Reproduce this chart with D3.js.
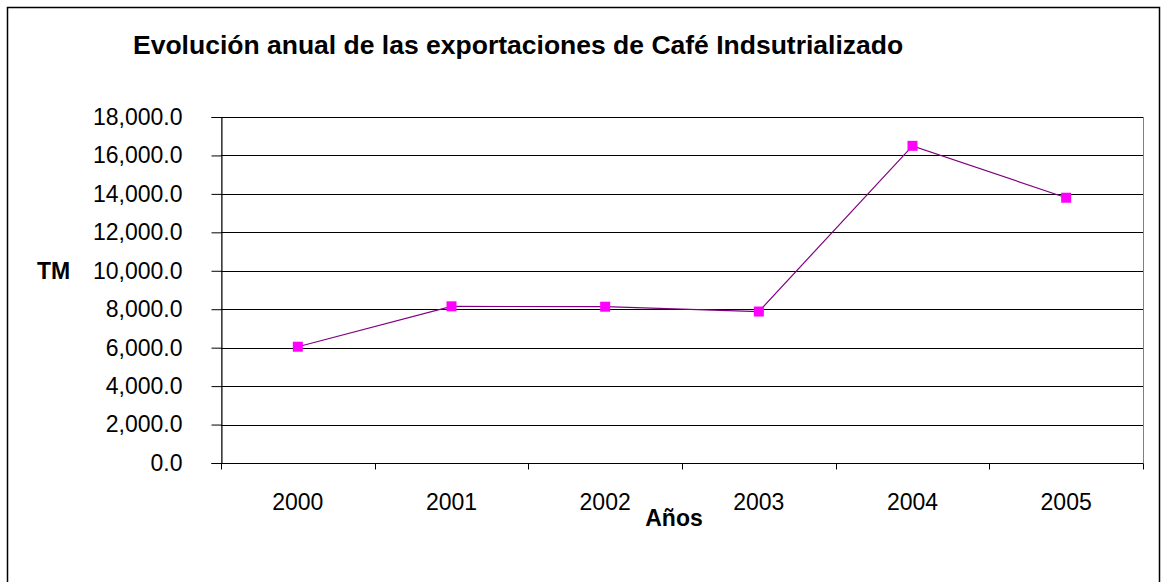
<!DOCTYPE html>
<html>
<head>
<meta charset="utf-8">
<script src="https://cdn.jsdelivr.net/npm/d3@7"></script>
<style>
  body { margin: 0; background: #fff; }
  svg { display: block; font-family: "Liberation Sans", Arial, sans-serif; }
</style>
</head>
<body>
<svg width="1163" height="582"></svg>
<script>
var years = ["2000", "2001", "2002", "2003", "2004", "2005"];
var tm = [6050, 8150, 8130, 7880, 16500, 13800];
var yTicks = [0, 2000, 4000, 6000, 8000, 10000, 12000, 14000, 16000, 18000];

var svg = d3.select("svg");
var margin = {top: 117, right: 20, bottom: 119, left: 221};
var width = 1143 - margin.left;
var height = 463 - margin.top;

// outer chart border
svg.append("rect")
  .attr("x", 7.5).attr("y", 7.5)
  .attr("width", 1152).attr("height", 620)
  .attr("fill", "none")
  .attr("stroke", "#000")
  .attr("stroke-width", 1.5);

svg.append("text")
  .attr("x", 133).attr("y", 54)
  .attr("font-size", "26.5px")
  .attr("font-weight", "bold")
  .text("Evolución anual de las exportaciones de Café Indsutrializado");

var g = svg.append("g").attr("transform", "translate(" + margin.left + "," + margin.top + ")");

var x = d3.scaleBand().domain(years).range([0, width]);
var y = d3.scaleLinear().domain([0, 18000]).range([height, 0]);

// plot area frame (grey top/right)
g.append("rect")
  .attr("x", 0.5).attr("y", 0.5)
  .attr("width", width).attr("height", height)
  .attr("fill", "none")
  .attr("stroke", "#808080");

// gridlines
g.selectAll(".grid")
  .data(yTicks.filter(function(d) { return d > 0; }))
  .enter().append("line")
  .attr("x1", 0).attr("x2", width)
  .attr("y1", function(d) { return Math.round(y(d)) + 0.5; })
  .attr("y2", function(d) { return Math.round(y(d)) + 0.5; })
  .attr("stroke", "#000")
  .attr("stroke-width", 1);

// y axis
var yAxis = g.append("g")
  .attr("transform", "translate(0.5,0)")
  .call(d3.axisLeft(y).tickValues(yTicks).tickSize(10).tickPadding(29)
    .tickFormat(d3.format(",.1f")));
yAxis.select(".domain").attr("stroke", "#000");
yAxis.selectAll(".tick line").attr("stroke", "#000");
yAxis.selectAll("text").attr("font-size", "23px").attr("fill", "#000")
  .attr("font-family", "Liberation Sans, Arial, sans-serif");

// x axis with ticks at category boundaries
var xAxis = g.append("g").attr("transform", "translate(0," + (height + 0.5) + ")");
xAxis.append("line").attr("x1", 0).attr("x2", width).attr("stroke", "#000");
var bounds = d3.range(years.length + 1).map(function(i) { return i * x.step(); });
xAxis.selectAll(".xt")
  .data(bounds)
  .enter().append("line")
  .attr("x1", function(d) { return Math.round(d) + 0.5; })
  .attr("x2", function(d) { return Math.round(d) + 0.5; })
  .attr("y1", 0).attr("y2", 6)
  .attr("stroke", "#000");
xAxis.selectAll(".xl")
  .data(years)
  .enter().append("text")
  .attr("x", function(d) { return x(d) + x.bandwidth() / 2; })
  .attr("y", 46)
  .attr("text-anchor", "middle")
  .attr("font-size", "23px")
  .text(function(d) { return d; });

var data = years.map(function(yr, i) { return {year: yr, v: tm[i]}; });

var line = d3.line()
  .x(function(d) { return x(d.year) + x.bandwidth() / 2; })
  .y(function(d) { return y(d.v); });

g.append("path")
  .datum(data)
  .attr("fill", "none")
  .attr("stroke", "#800080")
  .attr("stroke-width", 1.2)
  .attr("d", line);

g.selectAll(".pt")
  .data(data)
  .enter().append("rect")
  .attr("x", function(d) { return x(d.year) + x.bandwidth() / 2 - 5; })
  .attr("y", function(d) { return y(d.v) - 5; })
  .attr("width", 10).attr("height", 10)
  .attr("fill", "#ff00ff");

svg.append("text")
  .attr("x", 37).attr("y", 279)
  .attr("font-size", "23px")
  .attr("font-weight", "bold")
  .text("TM");

svg.append("text")
  .attr("x", 674).attr("y", 526)
  .attr("text-anchor", "middle")
  .attr("font-size", "23px")
  .attr("font-weight", "bold")
  .text("Años");
</script>
</body>
</html>
